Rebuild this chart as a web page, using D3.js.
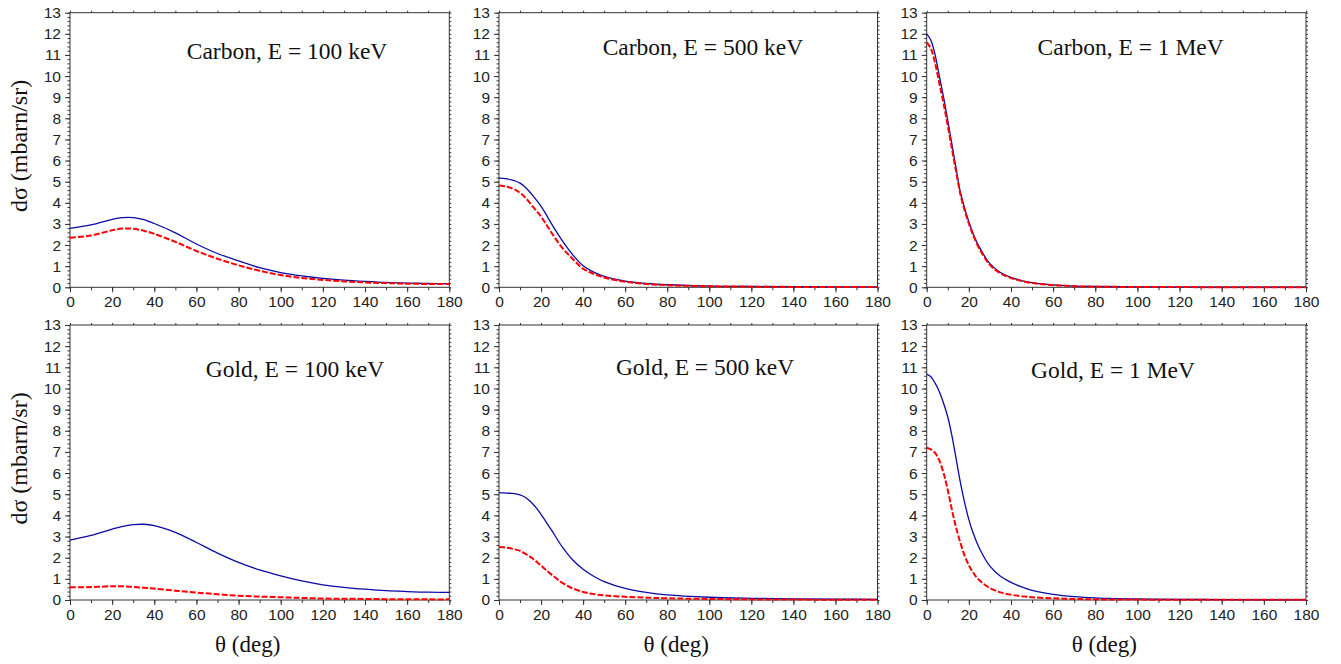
<!DOCTYPE html>
<html>
<head>
<meta charset="utf-8">
<script src="https://cdn.jsdelivr.net/npm/d3@7"></script>
<style>
  html, body { margin: 0; padding: 0; background: #fff; }
  svg { display: block; }
  .tick text { font-family: "Liberation Sans", Arial, sans-serif; font-size: 15.5px; fill: #222; }
  .panel-title, .axis-title { font-family: "Liberation Serif", "DejaVu Serif", serif; fill: #111; font-variant-numeric: oldstyle-nums; }
</style>
</head>
<body>
<svg id="chart" width="1341" height="664"></svg>
<script>
// Scattering angle grids (degrees)
const thetaWide = [0, 10, 20, 25, 30, 35, 40, 50, 60, 70, 80, 90, 100, 110, 120, 130, 140, 150, 160, 170, 180];
const thetaFine = [0, 2, 4, 6, 8, 10, 12, 14, 16, 18, 20, 22, 25, 30, 35, 40, 45, 50, 60, 70, 80, 100, 120, 140, 160, 180];

// Differential cross sections, mbarn/sr
const carbon100Solid  = [2.79, 2.95, 3.22, 3.30, 3.30, 3.20, 3.02, 2.58, 2.05, 1.60, 1.25, 0.93, 0.70, 0.54, 0.42, 0.34, 0.28, 0.23, 0.20, 0.18, 0.17];
const carbon100Dashed = [2.35, 2.45, 2.70, 2.78, 2.77, 2.68, 2.53, 2.15, 1.72, 1.35, 1.04, 0.78, 0.58, 0.44, 0.35, 0.28, 0.23, 0.20, 0.17, 0.16, 0.16];

const carbon500Solid  = [5.17, 5.16, 5.13, 5.08, 5.02, 4.93, 4.78, 4.58, 4.35, 4.10, 3.83, 3.52, 3.00, 2.22, 1.55, 1.02, 0.72, 0.52, 0.29, 0.18, 0.12, 0.06, 0.04, 0.03, 0.02, 0.02];
const carbon500Dashed = [4.82, 4.80, 4.76, 4.69, 4.60, 4.47, 4.30, 4.08, 3.83, 3.60, 3.35, 3.05, 2.58, 1.88, 1.35, 0.88, 0.64, 0.46, 0.26, 0.16, 0.10, 0.05, 0.03, 0.02, 0.015, 0.01];

const carbon1000Solid  = [12.0, 11.7, 11.0, 10.0, 9.0, 7.9, 6.75, 5.6, 4.5, 3.75, 3.1, 2.55, 1.9, 1.12, 0.70, 0.47, 0.32, 0.22, 0.11, 0.06, 0.04, 0.02, 0.01, 0.01, 0.005, 0.005];
const carbon1000Dashed = [11.6, 11.3, 10.6, 9.65, 8.7, 7.65, 6.55, 5.45, 4.4, 3.65, 3.02, 2.48, 1.82, 1.06, 0.66, 0.44, 0.30, 0.20, 0.10, 0.05, 0.03, 0.015, 0.01, 0.005, 0.005, 0.005];

const gold100Solid  = [2.83, 3.05, 3.35, 3.48, 3.56, 3.58, 3.52, 3.20, 2.72, 2.22, 1.78, 1.42, 1.14, 0.90, 0.72, 0.60, 0.51, 0.44, 0.40, 0.37, 0.36];
const gold100Dashed = [0.60, 0.61, 0.65, 0.65, 0.62, 0.58, 0.54, 0.44, 0.35, 0.27, 0.20, 0.16, 0.13, 0.10, 0.07, 0.06, 0.05, 0.04, 0.04, 0.03, 0.03];

const gold500Solid  = [5.06, 5.06, 5.05, 5.04, 5.02, 4.97, 4.88, 4.74, 4.55, 4.32, 4.05, 3.75, 3.30, 2.52, 1.90, 1.45, 1.12, 0.87, 0.55, 0.36, 0.24, 0.13, 0.08, 0.05, 0.04, 0.03];
const gold500Dashed = [2.50, 2.49, 2.47, 2.43, 2.38, 2.32, 2.22, 2.10, 1.96, 1.80, 1.63, 1.45, 1.20, 0.82, 0.55, 0.38, 0.28, 0.22, 0.15, 0.11, 0.08, 0.05, 0.03, 0.02, 0.015, 0.01];

const gold1000Solid  = [10.68, 10.55, 10.25, 9.85, 9.3, 8.65, 7.75, 6.65, 5.55, 4.6, 3.8, 3.18, 2.45, 1.6, 1.12, 0.83, 0.62, 0.46, 0.27, 0.16, 0.10, 0.05, 0.03, 0.02, 0.01, 0.01];
const gold1000Dashed = [7.2, 7.12, 6.95, 6.6, 6.0, 5.2, 4.25, 3.4, 2.7, 2.1, 1.65, 1.3, 0.93, 0.56, 0.36, 0.25, 0.18, 0.13, 0.08, 0.05, 0.03, 0.02, 0.01, 0.01, 0.01, 0.01];

// Axis tick values and labels
const xTicks = [0, 20, 40, 60, 80, 100, 120, 140, 160, 180];
const xMinorTicks = d3.range(0, 19).map(i => i * 10);
const yTicks = d3.range(0, 14);
const yMinorTicks = d3.range(0, 66).map(i => i / 5);
const xAxisTitle = "θ (deg)";
const yAxisTitle = "dσ (mbarn/sr)";

const panels = [
  { title: "Carbon, E = 100 keV", theta: thetaWide, solid: carbon100Solid,  dashed: carbon100Dashed,  col: 0, row: 0, titleAt: [103, 10.79] },
  { title: "Carbon, E = 500 keV", theta: thetaFine, solid: carbon500Solid,  dashed: carbon500Dashed,  col: 1, row: 0, titleAt: [97, 11.0] },
  { title: "Carbon, E = 1 MeV",   theta: thetaFine, solid: carbon1000Solid, dashed: carbon1000Dashed, col: 2, row: 0, titleAt: [96.8, 11.02] },
  { title: "Gold, E = 100 keV",   theta: thetaWide, solid: gold100Solid,    dashed: gold100Dashed,    col: 0, row: 1, titleAt: [106.8, 10.55] },
  { title: "Gold, E = 500 keV",   theta: thetaFine, solid: gold500Solid,    dashed: gold500Dashed,    col: 1, row: 1, titleAt: [98, 10.63] },
  { title: "Gold, E = 1 MeV",     theta: thetaFine, solid: gold1000Solid,   dashed: gold1000Dashed,   col: 2, row: 1, titleAt: [88.4, 10.5] }
];

// Plot-area frames for the 3 x 2 grid
const colSpans = [[70, 449.3], [499, 877.5], [926.7, 1306]];
const rowSpans = [[12.7, 287.3], [325, 600]];

const svg = d3.select("#chart");

panels.forEach(p => {
  const [x0, x1] = colSpans[p.col];
  const [y0, y1] = rowSpans[p.row];
  const x = d3.scaleLinear().domain([0, 180]).range([x0, x1]);
  const y = d3.scaleLinear().domain([0, 13]).range([y1, y0]);
  const g = svg.append("g");

  // minor ticks
  g.append("g").attr("transform", `translate(0,${y1})`)
    .call(d3.axisBottom(x).tickValues(xMinorTicks).tickSize(3).tickFormat(""))
    .call(a => a.select(".domain").remove());
  g.append("g").attr("transform", `translate(0,${y0})`)
    .call(d3.axisTop(x).tickValues(xMinorTicks).tickSize(2).tickFormat(""))
    .call(a => a.select(".domain").remove());
  g.append("g").attr("transform", `translate(${x0},0)`)
    .call(d3.axisLeft(y).tickValues(yMinorTicks).tickSize(2.5).tickFormat(""))
    .call(a => a.select(".domain").remove());
  g.append("g").attr("transform", `translate(${x1},0)`)
    .call(d3.axisRight(y).tickValues(yMinorTicks).tickSize(2).tickFormat(""))
    .call(a => a.select(".domain").remove());

  // major ticks with labels
  g.append("g").attr("transform", `translate(0,${y1})`)
    .call(d3.axisBottom(x).tickValues(xTicks).tickSize(5).tickPadding(4).tickFormat(d3.format("d")))
    .call(a => a.select(".domain").remove());
  g.append("g").attr("transform", `translate(${x0},0)`)
    .call(d3.axisLeft(y).tickValues(yTicks).tickSize(5).tickPadding(4).tickFormat(d3.format("d")))
    .call(a => a.select(".domain").remove());

  g.selectAll(".tick line").attr("stroke", "#333");

  // frame
  g.append("rect")
    .attr("x", x0).attr("y", y0)
    .attr("width", x1 - x0).attr("height", y1 - y0)
    .attr("fill", "none").attr("stroke", "#333").attr("stroke-width", 1);

  const pts = key => p.theta.map((t, i) => [t, p[key][i]]);
  const line = d3.line().x(d => x(d[0])).y(d => y(d[1])).curve(d3.curveCatmullRom.alpha(0.5));

  g.append("path").datum(pts("solid"))
    .attr("d", line).attr("fill", "none")
    .attr("stroke", "#0a0aa6").attr("stroke-width", 1.3);
  g.append("path").datum(pts("dashed"))
    .attr("d", line).attr("fill", "none")
    .attr("stroke", "#ff0000").attr("stroke-width", 2)
    .attr("stroke-dasharray", "6,2");

  g.append("text").attr("class", "panel-title")
    .attr("x", x(p.titleAt[0])).attr("y", y(p.titleAt[1]))
    .attr("text-anchor", "middle").attr("font-size", 23.5)
    .text(p.title);

  if (p.col === 0) {
    g.append("text").attr("class", "axis-title")
      .attr("transform", `translate(27,${(y0 + y1) / 2 - 4}) rotate(-90)`)
      .attr("text-anchor", "middle").attr("font-size", 24)
      .text(yAxisTitle);
  }
  if (p.row === 1) {
    g.append("text").attr("class", "axis-title")
      .attr("x", (x0 + x1) / 2 - 12).attr("y", 652)
      .attr("text-anchor", "middle").attr("font-size", 23)
      .text(xAxisTitle);
  }
});
</script>
</body>
</html>
